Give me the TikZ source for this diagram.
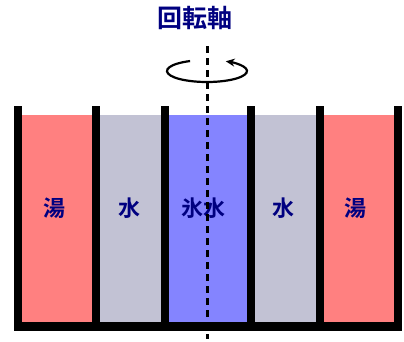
\documentclass[tikz,border=0pt]{standalone}
\usepackage{fontspec}
\newfontfamily\cjk{Noto Sans CJK JP Bold}
\usetikzlibrary{arrows.meta}
\definecolor{hotc}{HTML}{FF8080}
\definecolor{waterc}{HTML}{C2C2D4}
\definecolor{icec}{HTML}{8484FF}
\definecolor{txtc}{HTML}{000080}
\begin{document}
\begin{tikzpicture}[x=1pt,y=-1pt,
  lbl/.style={font=\cjk\fontsize{22}{22}\selectfont,text=txtc,inner sep=0pt}]
\useasboundingbox (0,0) rectangle (404,341);
% liquids
\fill[hotc] (22,115) rectangle (92,322);
\fill[waterc] (100,115) rectangle (161,322);
\fill[icec] (169,115) rectangle (247,322);
\fill[waterc] (255,115) rectangle (316,322);
\fill[hotc] (324,115) rectangle (394,322);
% walls
\fill[black] (14,106) rectangle (22,322);
\fill[black] (92,106) rectangle (100,322);
\fill[black] (161,106) rectangle (169,322);
\fill[black] (247,106) rectangle (255,322);
\fill[black] (316,106) rectangle (324,322);
\fill[black] (394,106) rectangle (402,322);
\fill[black] (14,322) rectangle (402,331);
% labels
\node[lbl] (h1) at (54,208) {湯};
\node[lbl] (w1) at (129,208) {水};
\node[lbl] (ice) at (203,208) {氷水};
\node[lbl] (w2) at (283,208) {水};
\node[lbl] (h2) at (355,208) {湯};
\node[lbl,font=\cjk\fontsize{25}{25}\selectfont] (title) at (195,18) {回転軸};
% axis
\coordinate (atop) at (207,46);
\coordinate (abot) at (207,339);
\draw[line width=3pt,dash pattern=on 7pt off 5pt] (atop) -- (abot);
% rotation arrow
\coordinate (c) at (207,71);
\draw[line width=2.2pt,-{Stealth[length=9pt,width=8pt]}]
  ([shift={(115:40 and -11)}]c) arc[start angle=115,end angle=422,x radius=40,y radius=-11];
\end{tikzpicture}
\end{document}
